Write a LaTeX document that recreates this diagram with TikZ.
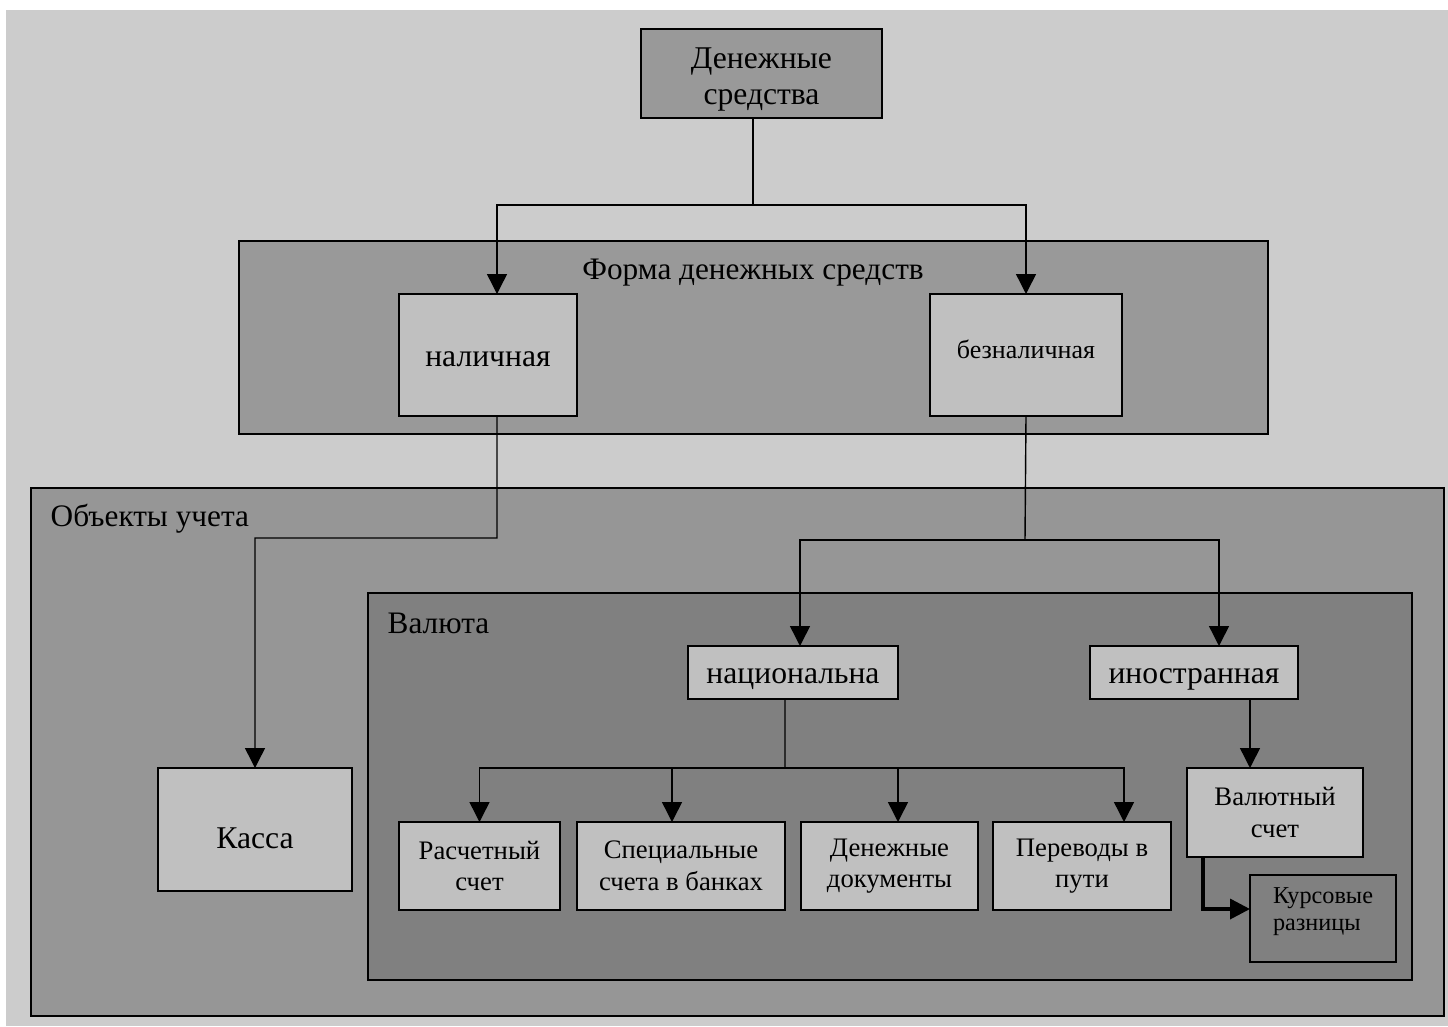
\documentclass[tikz,border=0pt]{standalone}
\usepackage{fontspec}
\setmainfont{Liberation Serif}
\usepackage{tikz}
\usetikzlibrary{arrows.meta,positioning}
\definecolor{paper}{HTML}{CCCCCC}
\definecolor{midgray}{HTML}{999999}
\definecolor{objgray}{HTML}{969696}
\definecolor{valgray}{HTML}{808080}
\definecolor{lightbox}{HTML}{C0C0C0}

\begin{document}
\begin{tikzpicture}[x=0.1mm,y=-0.1mm,>={Triangle[length=2mm,width=2mm]},
		line width=0.4pt]
		\tikzstyle{box}=[draw=black,fill=lightbox,rectangle,inner sep=0pt,outer sep=0pt,align=center,line width=0.6pt]
		\tikzstyle{frame}=[draw=black,rectangle,inner sep=0pt,outer sep=0pt,line width=0.6pt]
		\tikzstyle{caption}=[inner sep=0pt,font=\fontsize{8.9}{11}\selectfont]
		\tikzstyle{big}=[font=\fontsize{9}{10.3}\selectfont]
		\tikzstyle{small}=[font=\fontsize{7.6}{9}\selectfont]
		\tikzstyle{oneline}=[text height=6.4pt,text depth=0pt]
		
		\useasboundingbox (0,0) rectangle (1448,1026);
		\fill[white] (0,0) rectangle (1448,1026);
		\fill[paper] (6,10) rectangle (1448,1026);
		
		\node[frame,fill=midgray,minimum width=102.9mm,minimum height=19.3mm] (forma) at (753.5,337.5) {};
		\node[caption] (formalbl) at (753,273) {Форма денежных средств};
		\node[frame,fill=objgray,minimum width=141.3mm,minimum height=52.8mm] (obj) at (737.5,752) {};
		\node[caption,anchor=west] (objlbl) at (50,519) {Объекты учета};
		\node[frame,fill=valgray,minimum width=104.4mm,minimum height=38.7mm] (val) at (890,786.5) {};
		\node[caption,anchor=west] (vallbl) at (387,623) {Валюта};
		
		\node[box,fill=midgray,big,minimum width=24.1mm,minimum height=8.9mm] (dc) at (761.5,73.5) {\rule{0pt}{9.4pt}Денежные\\средства};
		\node[box,big,oneline,minimum width=17.8mm,minimum height=12.2mm] (nal) at (488,355) {наличная};
		\node[box,font=\fontsize{7.4}{9}\selectfont,minimum width=19.2mm,minimum height=12.2mm] (beznal) at (1026,355) {безналичная\rule[-3.4pt]{0pt}{0pt}};
		\node[box,big,text height=10.6pt,text depth=0pt,minimum width=19.4mm,minimum height=12.3mm] (kassa) at (255,829.5) {Касса};
		\node[box,big,oneline,minimum width=21mm,minimum height=5.3mm] (nat) at (793,672.5) {национальна};
		\node[box,big,oneline,minimum width=20.8mm,minimum height=5.3mm] (inostr) at (1194,672.5) {иностранная};
		\node[box,small,minimum width=16.1mm,minimum height=8.8mm] (rs) at (479.5,866) {Расчетный\\счет};
		\node[box,small,minimum width=20.8mm,minimum height=8.8mm] (sb) at (681,866) {Специальные\\счета в банках};
		\node[box,small,minimum width=17.7mm,minimum height=8.8mm] (dd) at (889.5,866) {Денежные\\документы};
		\node[box,small,minimum width=17.8mm,minimum height=8.8mm] (pp) at (1082,866) {Переводы в\\пути};
		\node[box,small,minimum width=17.6mm,minimum height=8.9mm] (vs) at (1275,812.5) {Валютный\\счет};
		\node[box,fill=valgray,align=left,font=\fontsize{6.9}{7.6}\selectfont,minimum width=14.6mm,minimum height=8.7mm] (kr) at (1323,918.5) {Курсовые\\разницы\rule[-5.5pt]{0pt}{0pt}};
		
		\coordinate (f1) at (753,205);
		\coordinate (f2) at (497,538);
		\coordinate (f3) at (1025,540);
		\coordinate (f4) at (785,768);
		
		\draw (dc.south -| f1) -- (f1);
		\draw[->] (f1) -| ([xshift=0.9mm]nal.north);
		\draw[->] (f1) -| (beznal.north);
		
		\draw[->] ([xshift=0.9mm]nal.south) -- (f2) -| (kassa.north);
		
		\draw (beznal.south) -- (f3);
		\draw[->] (f3) -| ([xshift=0.7mm]nat.north);
		\draw[->] (f3) -| ([xshift=2.5mm]inostr.north);
		
		\draw ([xshift=-0.8mm]nat.south) -- (f4);
		\draw[->] (f4) -| (rs.north);
		\draw[->] (f4) -| ([xshift=-0.9mm]sb.north);
		\draw[->] (f4) -| ([xshift=0.85mm]dd.north);
		\draw[->] (f4) -| ([xshift=4.2mm]pp.north);
		
		\draw[->] ([xshift=5.6mm]inostr.south) -- ([xshift=5.6mm]inostr.south |- vs.north);
		\draw[->,line width=1pt] ([xshift=1.6mm]vs.south west) |- ([yshift=0.95mm]kr.west);
\end{tikzpicture}
\end{document}
